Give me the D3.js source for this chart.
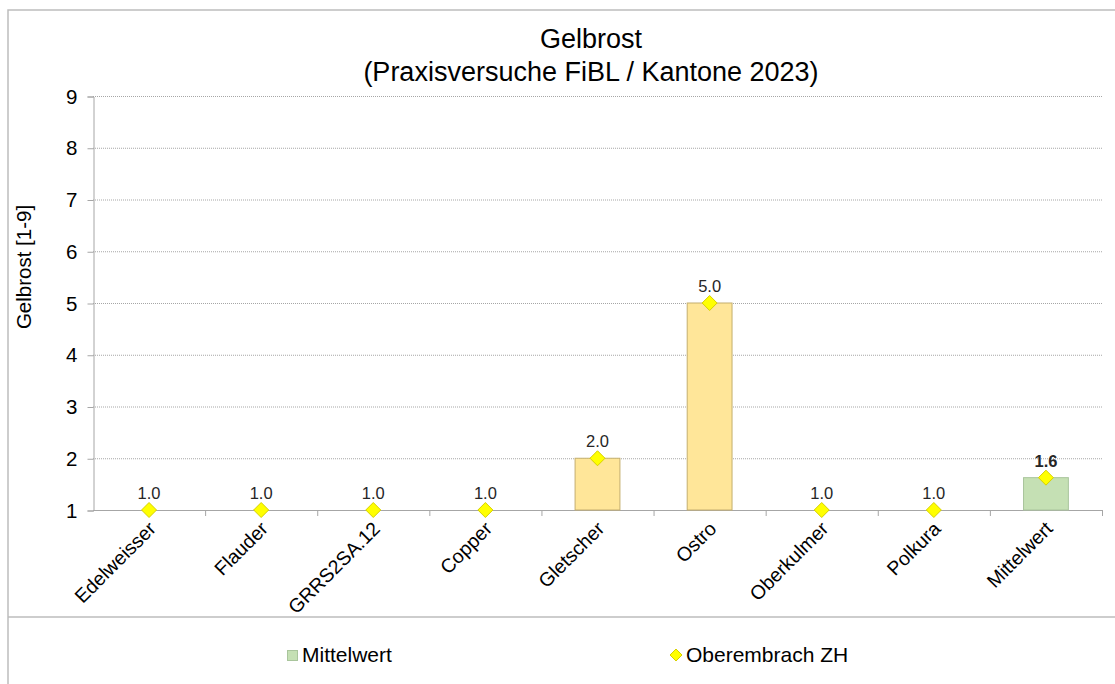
<!DOCTYPE html>
<html>
<head>
<meta charset="utf-8">
<script src="https://cdn.jsdelivr.net/npm/d3@7"></script>
<style>
  body { margin: 0; background: #fff; }
  svg { font-family: "Liberation Sans", Arial, sans-serif; }
</style>
</head>
<body>
<svg width="1115" height="684"></svg>
<script>
// **** Data ****
var categories = ["Edelweisser", "Flauder", "GRRS2SA.12", "Copper", "Gletscher", "Ostro", "Oberkulmer", "Polkura", "Mittelwert"];
var barValues = [1.0, 1.0, 1.0, 1.0, 2.0, 5.0, 1.0, 1.0, 1.625];
var siteValues = [1.0, 1.0, 1.0, 1.0, 2.0, 5.0, 1.0, 1.0, 1.625];
var yTicks = [1, 2, 3, 4, 5, 6, 7, 8, 9];
var titleLines = ["Gelbrost", "(Praxisversuche FiBL / Kantone 2023)"];
var legendNames = ["Mittelwert", "Oberembrach ZH"];

// **** Scales ****
var xScale = d3.scaleBand()
    .domain(categories)
    .range([93, 1102])
    .padding(0);
var yScale = d3.scaleLinear()
    .domain([1, 9])
    .range([510, 96]);

var svg = d3.select('svg');

// frame + legend separator
svg.append('path')
    .attr('d', 'M8,690 L8,10 L1120,10 M8,617 L1120,617')
    .attr('fill', 'none')
    .attr('stroke', '#bdbdbd')
    .attr('stroke-width', 1.5);

// title
svg.append('g').selectAll('text')
    .data(titleLines)
    .enter()
    .append('text')
    .attr('x', 591)
    .attr('y', function(d, i) { return 48 + i * 33; })
    .attr('text-anchor', 'middle')
    .attr('font-size', 27)
    .attr('fill', '#000')
    .text(function(d) { return d; });

// gridlines
svg.append('g')
    .selectAll('line')
    .data(yTicks.slice(1))
    .enter()
    .append('line')
    .attr('x1', 93)
    .attr('x2', 1102)
    .attr('y1', function(d) { return yScale(d) + 0.5; })
    .attr('y2', function(d) { return yScale(d) + 0.5; })
    .attr('stroke', '#a6a6a6')
    .attr('stroke-width', 1)
    .attr('stroke-dasharray', '1,1');

// y axis
var yAxis = svg.append('g')
    .attr('class', 'y axis')
    .attr('transform', 'translate(93.5,0.5)')
    .call(d3.axisLeft(yScale).tickValues(yTicks).tickSize(6).tickPadding(10).tickFormat(d3.format('d')));
yAxis.select('.domain').attr('stroke', '#a6a6a6');
yAxis.selectAll('.tick line').attr('stroke', '#a6a6a6');
yAxis.selectAll('.tick text')
    .attr('font-size', 20.5)
    .attr('font-family', '"Liberation Sans", Arial, sans-serif')
    .attr('fill', '#000');

// x axis line with ticks at band boundaries
svg.append('line')
    .attr('x1', 93)
    .attr('x2', 1102)
    .attr('y1', yScale(1) + 0.5)
    .attr('y2', yScale(1) + 0.5)
    .attr('stroke', '#a6a6a6');
svg.append('g')
    .selectAll('line')
    .data(categories)
    .enter()
    .append('line')
    .attr('x1', function(d) { return xScale(d) + xScale.bandwidth() + 0.5; })
    .attr('x2', function(d) { return xScale(d) + xScale.bandwidth() + 0.5; })
    .attr('y1', yScale(1))
    .attr('y2', yScale(1) + 6)
    .attr('stroke', '#a6a6a6');

// x labels
svg.append('g')
    .selectAll('text')
    .data(categories)
    .enter()
    .append('text')
    .attr('transform', function(d) {
        return 'translate(' + (xScale(d) + xScale.bandwidth() / 2 + 8) + ',' + (yScale(1) + 20) + ') rotate(-45)';
    })
    .attr('text-anchor', 'end')
    .attr('font-size', 19.5)
    .attr('fill', '#000')
    .text(function(d) { return d; });

// y axis title
svg.append('text')
    .attr('transform', 'translate(31,267) rotate(-90)')
    .attr('text-anchor', 'middle')
    .attr('font-size', 20.5)
    .attr('fill', '#000')
    .text('Gelbrost [1-9]');

// bars
var barW = xScale.bandwidth() * 0.4;
svg.append('g')
    .selectAll('rect')
    .data(barValues)
    .enter()
    .append('rect')
    .attr('x', function(d, i) { return xScale(categories[i]) + xScale.bandwidth() / 2 - barW / 2; })
    .attr('y', function(d) { return yScale(d); })
    .attr('width', barW)
    .attr('height', function(d) { return yScale(1) - yScale(d); })
    .attr('fill', function(d, i) { return categories[i] === 'Mittelwert' ? '#c5e0b4' : '#ffe699'; })
    .attr('stroke', function(d, i) { return categories[i] === 'Mittelwert' ? '#a9c59c' : '#c4ae6e'; })
    .attr('stroke-width', 1)
    .style('display', function(d) { return d > 1 ? null : 'none'; });

// diamonds
var diamond = 'M0,-7.5 L7.5,0 L0,7.5 L-7.5,0 Z';
svg.append('g')
    .selectAll('path')
    .data(siteValues)
    .enter()
    .append('path')
    .attr('d', diamond)
    .attr('transform', function(d, i) {
        return 'translate(' + (xScale(categories[i]) + xScale.bandwidth() / 2) + ',' + yScale(d) + ')';
    })
    .attr('fill', '#ffff00')
    .attr('stroke', '#d6d000')
    .attr('stroke-width', 1);

// value labels
svg.append('g')
    .selectAll('text')
    .data(siteValues)
    .enter()
    .append('text')
    .attr('x', function(d, i) { return xScale(categories[i]) + xScale.bandwidth() / 2; })
    .attr('y', function(d) { return yScale(d) - 11; })
    .attr('text-anchor', 'middle')
    .attr('font-size', 16.5)
    .attr('font-weight', function(d, i) { return categories[i] === 'Mittelwert' ? 'bold' : 'normal'; })
    .attr('fill', '#262626')
    .text(function(d) { return d.toFixed(1); });

// legend
svg.append('rect')
    .attr('x', 287.5)
    .attr('y', 650.5)
    .attr('width', 10)
    .attr('height', 10)
    .attr('fill', '#c5e0b4')
    .attr('stroke', '#a9c59c');
svg.append('path')
    .attr('d', 'M0,-6 L6,0 L0,6 L-6,0 Z')
    .attr('transform', 'translate(676,655)')
    .attr('fill', '#ffff00')
    .attr('stroke', '#d6d000');
svg.append('g')
    .selectAll('text')
    .data(legendNames)
    .enter()
    .append('text')
    .attr('x', function(d, i) { return i === 0 ? 302 : 686; })
    .attr('y', 662)
    .attr('font-size', 21)
    .attr('fill', '#000')
    .text(function(d) { return d; });
</script>
</body>
</html>
